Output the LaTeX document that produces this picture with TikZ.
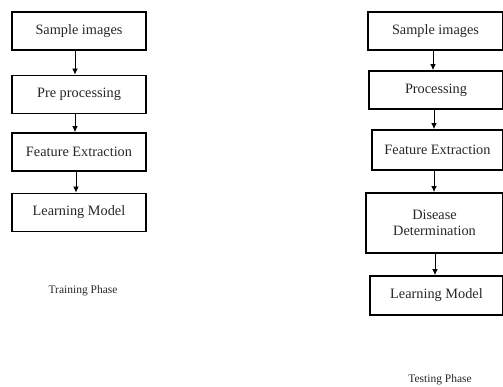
\documentclass[tikz,border=0pt]{standalone}
\usepackage{fontspec}
\setmainfont{Liberation Serif}
\usetikzlibrary{arrows.meta}

\begin{document}
\begin{tikzpicture}[x=1pt,y=-1pt]
\tikzstyle{every node}+=[inner sep=2pt, text=black!85]
\tikzstyle{stage}=[draw=black, line width=1.8pt, minimum height=38pt, align=center, font=\fontsize{14.3}{16.5}\selectfont]
\tikzstyle{link}=[black, line width=0.75pt, -{Latex[length=6pt,width=5.5pt]}]
\useasboundingbox (0,0) rectangle (503,387);
% training
\node [stage, minimum width=134pt] (trsample) at (79,31) {Sample images};
\node [stage, minimum width=134pt] (trpre) at (79,94.5) {Pre processing};
\node [stage, minimum width=134pt] (trfeat) at (79,152) {Feature Extraction};
\node [stage, minimum width=134pt] (trlearn) at (79,212.5) {Learning Model};
\node [font=\fontsize{11.5}{13}\selectfont] (trphase) at (83,291) {Training Phase};
\draw [link] (trsample.south -| 75,0) -- (trpre.north -| 75,0);
\draw [link] (trpre.south -| 75,0) -- (trfeat.north -| 75,0);
\draw [link] (trfeat.south -| 76,0) -- (trlearn.north -| 76,0);
% testing
\node [stage, minimum width=135pt] (tssample) at (435.5,31) {Sample images};
\node [stage, minimum width=134pt] (tsproc) at (436,90) {Processing};
\node [stage, minimum width=131pt, minimum height=40pt] (tsfeat) at (437.5,150) {Feature Extraction};
\node [stage, minimum width=137pt, minimum height=60pt] (tsdis) at (434.5,223) {Disease\\Determination};
\node [stage, minimum width=133pt, minimum height=39pt] (tslearn) at (436.5,295.5) {Learning Model};
\node [font=\fontsize{11.5}{13}\selectfont] (tsphase) at (440,380) {Testing Phase};
\draw [link] (tssample.south -| 433,0) -- (tsproc.north -| 433,0);
\draw [link] (tsproc.south -| 434,0) -- (tsfeat.north -| 434,0);
\draw [link] (tsfeat.south -| 434,0) -- (tsdis.north -| 434,0);
\draw [link] (tsdis.south -| 435,0) -- (tslearn.north -| 435,0);
\end{tikzpicture}
\end{document}
